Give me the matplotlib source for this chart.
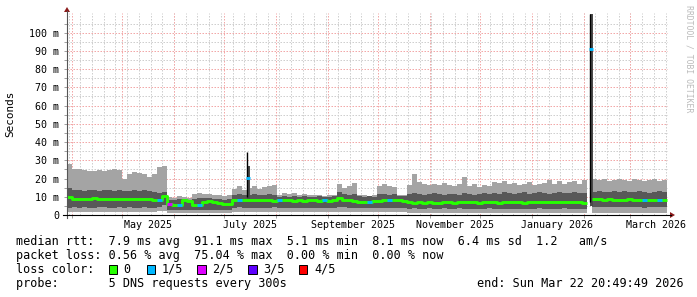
import numpy as np
import pandas as pd
import matplotlib
matplotlib.use("Agg")
import matplotlib.pyplot as plt
import matplotlib.dates as mdates
from matplotlib.patches import Rectangle, Polygon

# ---------------- data ----------------
t_start = "2025-03-29 00:00"
t_end = "2026-03-22 20:49:49"
view_end = "2026-03-23 10:50"
n_bins = 120

rtt_max = [28, 25, 25, 24.5, 24, 24, 24.5, 24, 24.5, 25, 24.5, 20, 22.5, 23.5, 23, 22.5, 21, 22.5, 26.5, 27,
           10, 9.5, 10.5, 10, 9.5, 11.5, 12, 11.5, 11.5, 11, 11, 10.5, 11, 14, 16, 13.5, 15, 16, 14, 15.5,
           16, 16.5, 11, 12, 11.5, 12, 11, 11.5, 11, 11, 11, 10.5, 11, 11, 17, 15, 16, 17.5, 11, 11,
           10.5, 11, 16, 17, 16, 15.5, 11, 11, 16.5, 22.5, 18, 17, 16.5, 17, 16.5, 17.5, 16.5, 16, 17, 21,
           16, 17, 15.5, 16.5, 16, 18, 17.5, 18.5, 17, 17.5, 16.5, 17, 18, 16.5, 17, 17.5, 19, 17, 18.5, 17,
           18, 18.5, 17, 19, np.nan, 19.5, 19, 19.5, 18.5, 19, 20, 19, 18.5, 19.5, 19, 18.5, 19, 19.5, 18.5, 19]
rtt_p4 = [15, 13.5, 13.5, 13, 13.5, 13.5, 13, 13.5, 13.5, 13, 13.5, 13, 13, 13.5, 13, 13.5, 13, 12.5, 12, 12.5,
          8.5, 8.5, 9, 9, 8.5, 9, 9.5, 9.5, 9.5, 9, 9, 8.5, 9, 11, 11.5, 11, 11, 11.5, 11, 11,
          11.5, 11, 10, 10.5, 10, 10.5, 10, 10.5, 10, 10, 10.5, 10, 10, 10.5, 12.5, 11.5, 11, 11.5, 10.5, 10,
          10.5, 10, 11.5, 11.5, 11, 11.5, 10.5, 10.5, 11.5, 12, 11.5, 11, 11.5, 12, 11.5, 11, 11.5, 11.5, 11, 12,
          11.5, 11, 11.5, 12, 11.5, 12, 11.5, 12.5, 12, 11.5, 12, 12.5, 11.5, 12, 12.5, 12, 11.5, 12, 12.5, 12,
          12, 12.5, 12, 12, np.nan, 12.5, 13, 12.5, 12.5, 13, 12.5, 13, 12.5, 12.5, 13, 12.5, 12, 12.5, 13, 12.5]
rtt_p2 = [4.0, 4.2, 4.0, 4.3, 4.1, 4.0, 4.2, 4.3, 4.0, 4.1, 4.2, 4.0, 4.3, 4.1, 4.0, 4.2, 4.0, 3.8, 4.5, 5.5,
          2.8, 2.6, 2.8, 3.0, 2.7, 2.6, 2.8, 3.0, 2.9, 2.8, 2.7, 2.6, 2.8, 4.0, 4.2, 4.0, 4.1, 4.0, 3.9, 4.1,
          4.0, 4.2, 4.0, 3.9, 4.1, 4.0, 4.0, 3.9, 4.1, 4.0, 3.8, 4.0, 4.1, 4.0, 4.5, 4.2, 4.0, 3.9, 3.6, 3.7,
          3.8, 3.6, 3.9, 4.1, 4.0, 3.9, 3.7, 3.8, 3.5, 3.6, 3.4, 3.5, 3.6, 3.4, 3.5, 3.6, 3.4, 3.5, 3.6, 3.5,
          3.4, 3.5, 3.3, 3.5, 3.6, 3.4, 3.2, 3.4, 3.5, 3.4, 3.3, 3.2, 3.4, 3.5, 3.6, 3.4, 3.3, 3.5, 3.4, 3.6,
          3.4, 3.3, 3.5, 3.4, np.nan, 4.3, 4.5, 4.4, 4.3, 4.2, 4.4, 4.3, 4.5, 4.2, 4.3, 4.1, 4.3, 4.2, 4.4, 4.3]
rtt_min = [1.8, 1.7, 1.9, 1.8, 1.6, 1.8, 1.9, 1.7, 1.8, 1.6, 1.8, 1.9, 1.7, 1.8, 1.6, 1.8, 1.7, 1.8, 2.0, 2.2,
           1.0, 0.9, 1.1, 1.0, 0.9, 1.0, 1.1, 1.0, 0.9, 1.0, 1.1, 1.0, 0.9, 1.6, 1.5, 1.7, 1.6, 1.5, 1.6, 1.7,
           1.5, 1.6, 1.5, 1.7, 1.6, 1.5, 1.6, 1.5, 1.7, 1.6, 1.5, 1.6, 1.5, 1.6, 1.8, 1.7, 1.6, 1.5, 1.4, 1.5,
           1.6, 1.4, 1.5, 1.6, 1.5, 1.4, 1.5, 1.4, 1.3, 1.2, 1.3, 1.2, 1.3, 1.1, 1.2, 1.3, 1.2, 1.1, 1.2, 1.3,
           1.2, 1.1, 1.0, 1.2, 1.1, 1.0, 1.1, 1.2, 1.0, 1.1, 1.0, 1.1, 1.2, 1.0, 1.1, 1.0, 1.1, 1.2, 1.0, 1.1,
           1.0, 1.1, 1.0, 1.1, np.nan, 1.0, 0.9, 1.0, 1.1, 1.0, 0.9, 1.0, 1.1, 1.0, 0.9, 1.0, 1.1, 1.0, 0.9, 1.0]
rtt_median = [10, 8.8, 9.0, 8.7, 8.8, 9.1, 8.9, 8.8, 8.7, 9.0, 8.8, 8.6, 8.8, 8.9, 8.7, 8.8, 8.6, 8.3, 8.4, 10.3,
              6.3, 5.5, 5.6, 8.0, 7.8, 5.4, 5.3, 7.2, 7.5, 7.2, 6.5, 6.0, 6.2, 8.4, 8.2, 8.3, 8.0, 8.3, 8.1, 8.0,
              8.2, 7.9, 8.1, 8.0, 8.0, 7.8, 8.0, 7.9, 8.0, 8.1, 7.9, 8.0, 7.8, 8.0, 9.3, 8.5, 8.0, 7.6, 7.4, 7.2,
              7.3, 7.5, 7.6, 8.3, 8.1, 8.2, 8.0, 7.8, 6.9, 6.8, 7.0, 6.7, 6.9, 6.8, 6.7, 7.0, 6.9, 6.8, 6.9, 7.1,
              7.2, 7.0, 6.8, 7.1, 7.3, 7.2, 6.6, 7.0, 7.3, 7.2, 6.9, 6.6, 7.1, 7.3, 7.4, 7.2, 7.0, 7.3, 7.1, 7.4,
              7.2, 7.0, 7.3, 6.8, np.nan, 8.6, 8.7, 8.5, 8.6, 8.4, 8.3, 8.5, 8.6, 8.2, 8.4, 8.3, 8.2, 8.0, 8.2, 8.1]
loss_fifths = [0] * n_bins
for i, v in [(18, 1), (20, 2), (22, 1), (26, 1), (34, 1), (42, 1), (51, 1), (60, 1), (64, 1), (115, 1), (118, 1)]:
    loss_fifths[i] = v

spike_times = ["2025-07-14 12:00", "2026-02-04 16:00"]
spike_max = [34.6, 110.0]
spike_p4 = [27.0, 110.0]
spike_low = [8.0, 5.0]
spike_median = [20.3, 91.1]
spike_loss = [1, 1]

y_ticks = [0, 10, 20, 30, 40, 50, 60, 70, 80, 90, 100]
y_tick_labels = ["0", "10 m", "20 m", "30 m", "40 m", "50 m", "60 m", "70 m", "80 m", "90 m", "100 m"]
x_label_months = ["2025-05-01", "2025-07-01", "2025-09-01", "2025-11-01", "2026-01-01", "2026-03-01"]
x_label_texts = ["May 2025", "July 2025", "September 2025", "November 2025", "January 2026", "March 2026"]

loss_colors = ["#26ff00", "#00b8ff", "#dd00ff", "#5e00ff", "#ff0000"]
loss_names = ["0", "1/5", "2/5", "3/5", "4/5"]

legend_rows = [
    "median rtt:  7.9 ms avg  91.1 ms max  5.1 ms min  8.1 ms now  6.4 ms sd  1.2   am/s",
    "packet loss: 0.56 % avg  75.04 % max  0.00 % min  0.00 % now",
    "loss color:",
    "probe:       5 DNS requests every 300s",
]
end_text = "end: Sun Mar 22 20:49:49 2026"

# ---------------- figure ----------------
W, H = 697, 297
fig = plt.figure(figsize=(W / 100, H / 100), dpi=100)
fig.patch.set_facecolor("white")
ax = fig.add_axes([67 / W, 82 / H, 601 / W, 202 / H])
ax.set_facecolor("white")

MONO = "DejaVu Sans Mono"
edges = pd.date_range(t_start, t_end, periods=n_bins + 1)
x0 = mdates.date2num(pd.Timestamp(t_start))
x1 = mdates.date2num(pd.Timestamp(view_end))
ax.set_xlim(x0, x1)
ax.set_ylim(0, 110.8)

ex = mdates.date2num(edges)
arrs = {k: np.array(v, dtype=float) for k, v in
        dict(mx=rtt_max, p4=rtt_p4, p2=rtt_p2, mn=rtt_min, md=rtt_median).items()}

# grid
for m in pd.date_range("2025-03-01", "2026-04-01", freq="W-SUN"):
    ax.axvline(mdates.date2num(m), color="#cfcfcf", lw=0.72, ls=(0, (1.5, 1.5)), zorder=0)
for y in np.arange(5, 110, 10):
    ax.axhline(y, color="#cfcfcf", lw=0.72, ls=(0, (1.5, 1.5)), zorder=0)
for m in pd.date_range("2025-04-01", "2026-03-01", freq="MS"):
    ax.axvline(mdates.date2num(m), color="#f2a8a8", lw=0.72, ls=(0, (1.5, 1.5)), zorder=0.5)
for y in y_ticks[1:]:
    ax.axhline(y, color="#f2a8a8", lw=0.72, ls=(0, (1.5, 1.5)), zorder=0.5)

# smoke, drawn per contiguous segment
valid = ~np.isnan(arrs["mx"])
segs = []
i = 0
while i < n_bins:
    if valid[i]:
        j = i
        while j < n_bins and valid[j]:
            j += 1
        segs.append((i, j))
        i = j
    else:
        i += 1


def ext(a, i, j):
    return np.append(a[i:j], a[j - 1])


for i, j in segs:
    xs = ex[i:j + 1]
    ax.fill_between(xs, ext(arrs["mn"], i, j), ext(arrs["mx"], i, j), step="post",
                    color="#a4a4a4", lw=0, zorder=2)
    ax.fill_between(xs, ext(arrs["p2"], i, j), ext(arrs["p4"], i, j), step="post",
                    color="#585858", lw=0, zorder=3)
    ax.step(xs, ext(arrs["md"], i, j), where="post", color=loss_colors[0], lw=2.1, zorder=4,
            solid_capstyle="butt")

for k in range(n_bins):
    if loss_fifths[k] > 0 and valid[k]:
        ax.hlines(arrs["md"][k], ex[k], ex[k + 1], colors=loss_colors[loss_fifths[k]], lw=2.1,
                  zorder=5)

# spikes
for t, smx, sp4, slo, smd, sl in zip(spike_times, spike_max, spike_p4, spike_low, spike_median, spike_loss):
    xt = mdates.date2num(pd.Timestamp(t))
    d = 1.8
    ax.fill_between([xt, xt + d], slo, sp4, color="#4a4a4a", lw=0, zorder=3)
    ax.vlines(xt, slo + 2, smx, colors="black", lw=1.0, zorder=4)
    ax.hlines(smd, xt - 0.3, xt + d, colors=loss_colors[sl], lw=2.1, zorder=5)

# axes styling
for s in ["top", "right", "left", "bottom"]:
    ax.spines[s].set_visible(False)
ax.set_yticks(y_ticks)
ax.set_yticklabels(y_tick_labels, family=MONO, fontsize=7.2)
ax.set_yticks(np.arange(5, 110, 10), minor=True)
ax.tick_params(axis="y", which="both", length=2.2, width=0.7, color="#a0a0a0", pad=3.5)
ax.set_xticks([mdates.date2num(pd.Timestamp(m)) for m in pd.date_range("2025-04-01", "2026-03-01", freq="MS")])
ax.set_xticklabels([])
ax.tick_params(axis="x", which="both", length=2.2, width=0.7, color="#a0a0a0")


def fx(px):
    return px / W


def fy(py):
    return 1 - py / H


fig.add_artist(plt.Line2D([fx(67), fx(67)], [fy(218), fy(11)], color="#555555", lw=0.8))
fig.add_artist(plt.Line2D([fx(63), fx(671)], [fy(215), fy(215)], color="black", lw=0.8))
fig.add_artist(Polygon([[fx(64), fy(12)], [fx(70), fy(12)], [fx(67), fy(7)]], closed=True,
                       color="#8b1a1a", lw=0))
fig.add_artist(Polygon([[fx(670), fy(212)], [fx(670), fy(218)], [fx(675), fy(215)]], closed=True,
                       color="#8b1a1a", lw=0))

# x labels
for m, lab in zip(x_label_months, x_label_texts):
    xl = mdates.date2num(pd.Timestamp(m) + pd.Timedelta(days=15.25))
    ax.text(xl, -(224.5 - 215) / 202, lab, transform=ax.get_xaxis_transform(),
            ha="center", va="center", family=MONO, fontsize=7.2)

fig.text(fx(10), fy(114), "Seconds", rotation=90, ha="center", va="center", family=MONO, fontsize=7.9)
fig.text(fx(689), fy(59), "RRDTOOL / TOBI OETIKER", rotation=270, ha="center", va="center",
         family=MONO, fontsize=5.9, color="#bbbbbb")

# legend
row_y = [241, 255.7, 269.5, 283.7]
for txt, yy in zip(legend_rows, row_y):
    fig.text(fx(16.5), fy(yy), txt, ha="left", va="center", family=MONO, fontsize=8.5)
fig.text(fx(683.6), fy(row_y[3]), end_text, ha="right", va="center", family=MONO, fontsize=8.5)
box_x = [108.6, 146.5, 197, 248.4, 298.5]
lab_x = [123, 162, 212, 263.6, 314]
for bx, lx, c, n in zip(box_x, lab_x, loss_colors, loss_names):
    fig.add_artist(Rectangle((fx(bx), fy(row_y[2] + 4.5)), 8.5 / W, 9 / H, facecolor=c,
                             edgecolor="black", lw=0.7))
    fig.text(fx(lx), fy(row_y[2]), n, ha="left", va="center", family=MONO, fontsize=8.5)

fig.savefig("out.png", dpi=100, facecolor="white")
